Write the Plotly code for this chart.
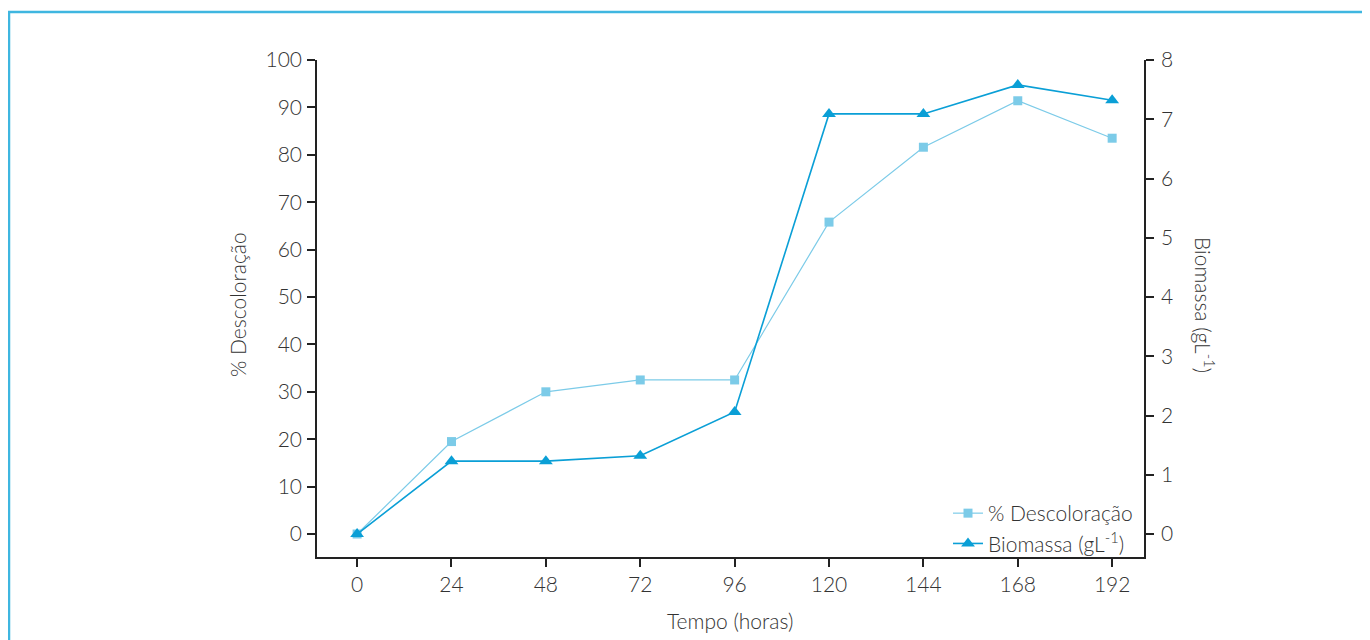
import plotly.graph_objects as go

tempo = [0, 24, 48, 72, 96, 120, 144, 168, 192]
descoloracao = [0, 19.5, 30.0, 32.5, 32.5, 65.8, 81.6, 91.4, 83.5]
biomassa = [0, 1.23, 1.23, 1.32, 2.06, 7.09, 7.09, 7.58, 7.32]
x_ticks = [0, 24, 48, 72, 96, 120, 144, 168, 192]
y1_ticks = list(range(0, 101, 10))
y2_ticks = list(range(0, 9))

FONT = "Lato"
TXT = "#333333"
C1 = "#7ccbe8"
C2 = "#0a9fd6"
FS = 21

# page body has an 8px margin: the plot area should span pixels x 317..1144, y 60..557
OFF = 8
L, R, T, B = 317, 1144, 60, 557
W, H = 1370 - OFF, 640 - OFF
PW, PH = R - L, B - T


def px(x):
    return (x - L) / PW


def py(y):
    return (B - y) / PH


fig = go.Figure()
fig.add_trace(go.Scatter(
    x=tempo, y=descoloracao, name="% Descoloração", mode="lines+markers",
    line=dict(color=C1, width=1.2),
    marker=dict(symbol="square", size=9, color=C1), yaxis="y"))
fig.add_trace(go.Scatter(
    x=tempo, y=biomassa, name="Biomassa (gL<sup>-1</sup>)", mode="lines+markers",
    line=dict(color=C2, width=1.6),
    marker=dict(symbol="triangle-up", size=12, color=C2), yaxis="y2"))

axis_common = dict(showline=True, linecolor="#222", linewidth=1.5,
                   ticks="outside", ticklen=8, tickwidth=1.5, tickcolor="#222",
                   showgrid=False, zeroline=False,
                   tickfont=dict(family=FONT, size=FS, color=TXT, weight=300))

fig.update_layout(
    width=W, height=H,
    margin=dict(l=L - OFF, r=W + OFF - R, t=T - OFF, b=H + OFF - B),
    paper_bgcolor="white", plot_bgcolor="white",
    font=dict(family=FONT, color=TXT, size=FS),
    xaxis=dict(range=[-10.2, 200.1], tickvals=x_ticks, ticklabelstandoff=0, **axis_common),
    yaxis=dict(range=[-4.85, 100], tickvals=y1_ticks, ticklabelstandoff=1, **axis_common),
    yaxis2=dict(range=[-0.388, 8], tickvals=y2_ticks, overlaying="y", side="right",
                ticklabelstandoff=3, **axis_common),
    legend=dict(x=px(1138), y=py(493), xanchor="right", yanchor="top",
                bgcolor="rgba(0,0,0,0)", tracegroupgap=0,
                font=dict(family=FONT, size=FS, color=TXT, weight=300),
                itemwidth=30),
    showlegend=True,
)

fig.add_annotation(text="% Descoloração", xref="paper", yref="paper",
                   x=px(237), y=py(305), textangle=-90,
                   showarrow=False, xanchor="center", yanchor="middle",
                   font=dict(family=FONT, size=FS, color=TXT, weight=300))
fig.add_annotation(text="Biomassa (gL<sup>-1</sup>)", xref="paper", yref="paper",
                   x=px(1205), y=py(305), textangle=90,
                   showarrow=False, xanchor="center", yanchor="middle",
                   font=dict(family=FONT, size=FS, color=TXT, weight=300))
fig.add_annotation(text="Tempo (horas)", xref="paper", yref="paper",
                   x=px(730), y=py(620),
                   showarrow=False, xanchor="center", yanchor="middle",
                   font=dict(family=FONT, size=FS, color=TXT, weight=300))

fig.add_shape(type="rect", xref="paper", yref="paper",
              x0=px(9), x1=px(1365),
              y0=py(660), y1=py(12),
              line=dict(color="#3fb6e0", width=2.5), layer="below")

fig.write_html("out.html")
